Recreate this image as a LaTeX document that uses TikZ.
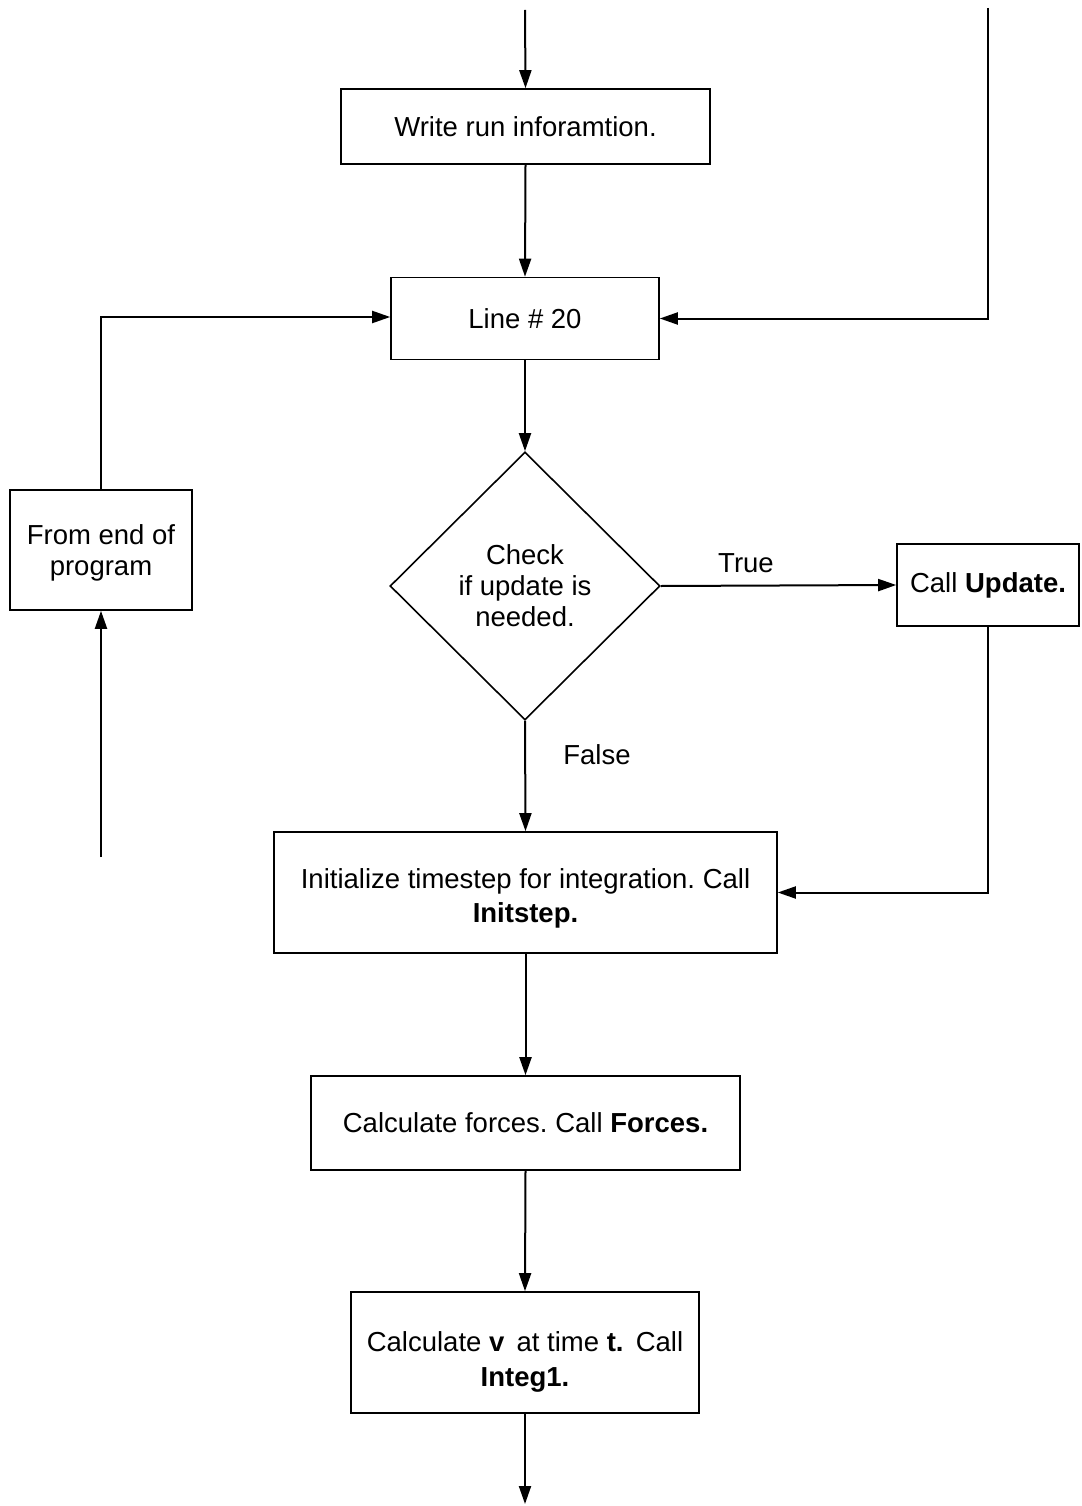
\documentclass[tikz,border=0pt]{standalone}
\usepackage{fontspec}
\setmainfont{Liberation Sans}
\usetikzlibrary{arrows.meta,shapes.geometric}
\begin{document}
\frenchspacing
\begin{tikzpicture}[x=1pt,y=-1pt,
  every node/.style={font=\fontsize{27.5}{31}\selectfont},
  box/.style={draw,line width=1.6pt,inner sep=0pt,align=center},
  flow/.style={line width=2pt,-{Triangle[length=18pt,width=12pt]}},
  lbl/.style={inner sep=0pt}]
\useasboundingbox[fill=white] (0,0) rectangle (1081,1506);
\node[box,minimum width=369pt,minimum height=75pt] (write) at (525.5,126.5) {Write run inforamtion.};
\node[box,minimum width=268pt,minimum height=82pt] (line) at (525,318.5) {Line \# 20};
\node[draw,line width=1.6pt,shape=diamond,inner sep=0pt,minimum width=270pt,minimum height=268pt,align=center] (check) at (525,586) {Check\\if update is\\needed.};
\node[box,minimum width=182pt,minimum height=82pt] (upd) at (988,585) {Call \textbf{Update.}};
\node[box,minimum width=182pt,minimum height=120pt,text height=57.5pt] (from) at (101,550) {From end of\\program};
\node[box,minimum width=503pt,minimum height=121pt,text height=65pt] (init) at (525.5,892.5) {Initialize timestep for integration. Call\\[3pt]\textbf{Initstep.}};
\node[box,minimum width=429pt,minimum height=94pt] (forces) at (525.5,1123) {Calculate forces. Call \textbf{Forces.}};
\node[box,minimum width=348pt,minimum height=121pt,text height=73pt] (integ) at (525,1352.5) {Calculate \textbf{v}\, at time \textbf{t.}\, Call\\[4pt]\textbf{Integ1.}};
\node[lbl] (true) at (746,563) {True};
\node[lbl] (false) at (597,755) {False};
\coordinate (top) at (525,10);
\coordinate (rtop) at (988,8);
\coordinate (lb) at (101,857);
\coordinate (bot) at (525,1504);
\draw[flow] (top) -- (write.north);
\draw[flow] (write.south) -- (line.north);
\draw[flow] (rtop) |- (line.east);
\draw[flow] (from.north) |- ([yshift=1.5pt]line.west);
\draw[flow] (lb) -- (from.south);
\draw[flow] (line.south) -- (check.north);
\draw[flow] (check.east) -- (upd.west);
\draw[flow] (upd.south) |- (init.east);
\draw[flow] (check.south) -- (init.north);
\draw[flow] (init.south) -- (forces.north);
\draw[flow] (forces.south) -- (integ.north);
\draw[flow] (integ.south) -- (bot);
\end{tikzpicture}
\end{document}
